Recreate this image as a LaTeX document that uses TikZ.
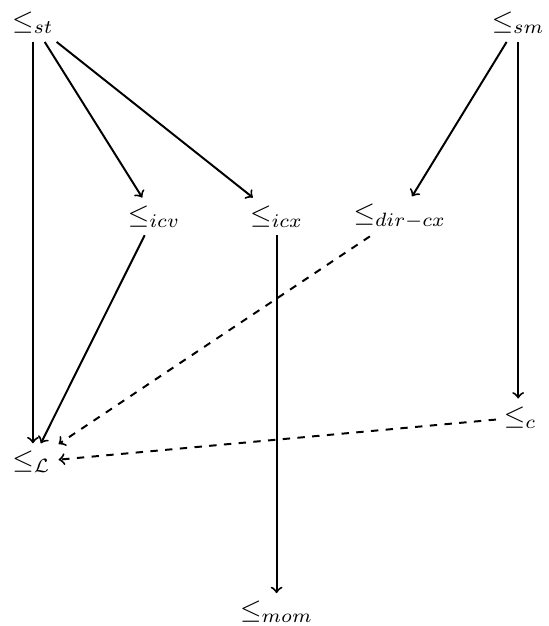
\documentclass[tikz,border=0pt]{standalone}
\begin{document}
\begin{tikzpicture}[every node/.style={inner sep=2.7pt, scale=1.12},
  imp/.style={->, thick}, weak/.style={->, thick, dashed}]
\useasboundingbox (0,0) rectangle (7.83,-8.94);
\node (st) at (0.47,-0.33) {$\leq_{st}$};
\node (sm) at (7.4,-0.33) {$\leq_{sm}$};
\node (icv) at (2.2,-3.09) {$\leq_{icv}$};
\node (icx) at (3.95,-3.09) {$\leq_{icx}$};
\node (dircx) at (5.71,-3.09) {$\leq_{dir-cx}$};
\node (c) at (7.43,-5.96) {$\leq_{c}$};
\node (L) at (0.45,-6.6) {$\leq_{\mathcal{L}}$};
\node (mom) at (3.95,-8.74) {$\leq_{mom}$};
% solid implications
\draw[imp] (st) -- (st |- L.north);
\draw[imp] (st) -- (icv);
\draw[imp] (st) -- (icx);
\draw[imp] (sm) -- (dircx);
\draw[imp] (sm) -- (sm |- c.north);
\draw[imp] (icv) -- (L);
\draw[imp] (icx) -- (mom);
% dashed ones
\draw[weak] (dircx) -- (L);
\draw[weak] (c) -- (L);
\end{tikzpicture}
\end{document}
